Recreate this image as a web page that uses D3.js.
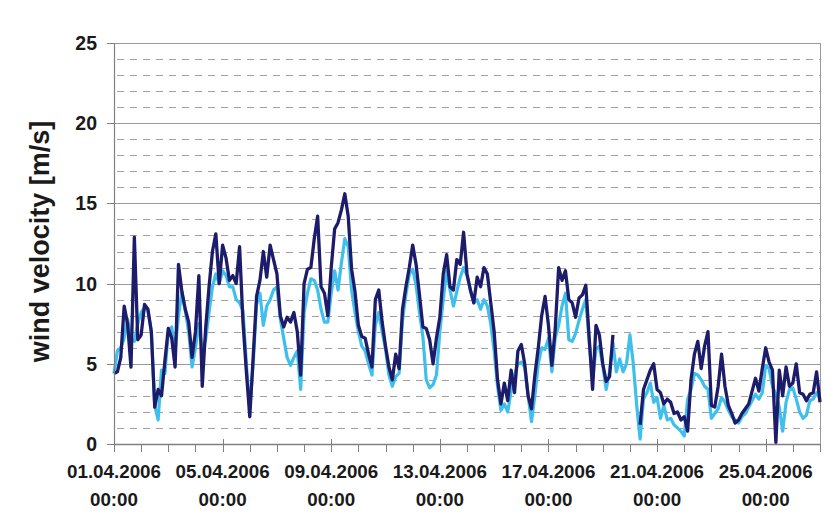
<!DOCTYPE html>
<html>
<head>
<meta charset="utf-8">
<script src="https://cdn.jsdelivr.net/npm/d3@7"></script>
<style>
  html, body { margin: 0; padding: 0; background: #fff; }
  svg { display: block; }
  text { font-family: "Liberation Sans", Arial, sans-serif; font-weight: bold; fill: #1a1a1a; }
</style>
</head>
<body>
<svg id="chart" width="840" height="519"></svg>
<script>
// ---- data (3-hourly samples, 01.04.2006 00:00 .. 27.04.2006 00:00) ----
const startTime = Date.UTC(2006, 3, 1, 0, 0);
const stepHours = 3;

const darkSeries = [
  4.4,4.5,5.4,8.6,7.5,4.8,12.9,6.5,
  6.8,8.7,8.4,7.0,2.3,3.4,3.0,5.2,
  7.2,6.6,4.8,11.2,9.5,8.4,7.6,5.4,
  7.0,10.5,3.6,7.2,9.8,12.0,13.1,10.0,
  12.4,11.6,10.2,10.5,10.0,12.3,7.6,4.5,
  1.7,5.4,9.2,10.2,12.0,10.4,12.4,11.5,
  10.6,8.0,7.3,7.9,7.6,8.2,7.0,4.3,
  10.0,10.9,11.0,12.8,14.2,9.8,9.4,8.0,
  11.0,13.4,13.8,14.6,15.6,14.2,10.9,9.5,
  7.4,6.7,6.6,5.6,4.8,9.0,9.6,7.6,
  6.1,4.8,4.0,5.6,4.7,8.4,9.8,11.0,
  12.4,11.2,9.3,7.3,7.2,6.5,5.0,6.6,
  7.9,10.6,11.8,9.8,9.6,11.5,11.2,13.2,
  10.6,9.6,8.8,10.4,9.8,11.0,10.6,8.8,
  7.0,4.0,2.5,3.8,2.7,4.6,3.2,5.8,
  6.2,5.0,3.0,2.2,4.3,6.0,8.0,9.2,
  7.4,4.9,7.2,11.0,10.2,10.8,9.0,8.8,
  7.9,9.1,9.3,9.9,6.6,3.4,7.4,6.8,
  5.0,3.9,4.2,6.8,null,null,null,null,
  null,null,null,1.2,3.4,4.0,4.6,5.0,
  3.4,3.2,2.5,2.8,2.6,1.9,2.0,1.5,
  1.7,0.8,4.0,5.6,6.4,4.7,6.1,7.0,
  2.4,2.3,3.6,5.6,3.6,2.4,1.9,1.3,
  1.5,1.9,2.2,2.5,3.3,4.1,3.3,4.7,
  6.0,5.1,4.6,0.1,4.6,3.0,4.8,3.6,
  3.8,5.0,3.2,3.1,2.7,3.1,3.2,4.5,
  2.6
];

const lightSeries = [
  4.4,5.8,6.0,6.6,7.8,6.5,6.4,7.5,
  8.2,8.5,8.3,7.0,2.4,1.5,4.6,4.4,
  7.0,7.3,5.8,8.0,9.5,8.3,7.0,4.8,
  6.0,7.5,5.8,6.5,8.2,9.8,10.6,10.0,
  10.8,10.5,9.8,9.8,9.0,8.8,8.3,5.0,
  2.2,5.0,8.7,9.4,7.4,8.6,9.0,9.6,
  9.8,7.8,6.6,5.4,4.9,5.4,5.8,3.4,
  8.2,9.4,10.3,10.2,9.6,8.4,7.6,7.6,
  9.4,10.8,9.6,11.3,12.8,12.3,9.6,8.2,
  7.0,6.1,5.8,5.0,4.3,7.4,8.2,7.0,
  5.9,4.3,3.6,4.2,4.4,7.7,9.3,10.6,
  10.9,9.9,8.2,6.7,4.0,3.5,3.7,4.3,
  7.0,9.0,10.8,9.6,8.6,9.5,10.4,11.0,
  10.5,9.6,8.8,9.0,8.4,9.0,8.6,7.5,
  5.8,3.6,2.1,2.5,2.0,3.3,4.3,5.0,
  5.1,4.8,3.0,1.4,3.0,5.0,6.0,5.9,
  6.6,4.5,6.6,7.4,8.6,9.4,6.5,6.4,
  6.9,7.7,8.4,9.0,6.4,4.0,5.9,6.1,
  4.9,3.4,4.5,6.3,4.5,5.3,4.5,5.0,
  6.8,5.0,2.4,0.3,2.8,3.2,3.8,2.6,
  2.9,1.6,2.4,1.5,1.6,1.2,1.0,0.8,
  0.5,2.8,3.4,4.4,4.3,4.0,3.6,3.4,
  1.6,1.9,2.2,2.9,2.6,2.1,1.7,1.5,
  1.3,1.7,1.9,2.3,2.7,3.1,2.8,3.2,
  4.9,4.7,3.6,3.1,2.3,0.8,2.6,3.4,
  3.5,2.8,2.0,1.6,1.8,2.7,2.8,3.2,
  2.8
];

const xTickDates = ["2006-04-01","2006-04-05","2006-04-09","2006-04-13","2006-04-17","2006-04-21","2006-04-25"];
const xTickLabels = ["01.04.2006","05.04.2006","09.04.2006","13.04.2006","17.04.2006","21.04.2006","25.04.2006"];
const xTickTime = "00:00";
const yMajorTicks = [0, 5, 10, 15, 20, 25];
const yTitle = "wind velocity [m/s]";

// ---- layout ----
const pLeft = 114, pRight = 820, pTop = 43, pBottom = 444;
const svg = d3.select("#chart");

const x = d3.scaleUtc()
  .domain([new Date(Date.UTC(2006, 3, 1)), new Date(Date.UTC(2006, 3, 27))])
  .range([pLeft, pRight]);
const y = d3.scaleLinear().domain([0, 25]).range([pBottom, pTop]);

const timeOf = i => new Date(startTime + i * stepHours * 3600e3);
const toPoints = arr => arr.map((v, i) => ({ t: timeOf(i), v }));

// grid
const g = svg.append("g");
d3.range(1, 25).filter(v => v % 5 !== 0).forEach(v => {
  g.append("line").attr("x1", pLeft + 3).attr("x2", pRight)
    .attr("y1", Math.round(y(v)) + 0.5).attr("y2", Math.round(y(v)) + 0.5)
    .attr("stroke", "#a0a0a0").attr("stroke-width", 1)
    .attr("stroke-dasharray", "7,6");
});
yMajorTicks.filter(v => v > 0).forEach(v => {
  g.append("line").attr("x1", pLeft).attr("x2", pRight)
    .attr("y1", Math.round(y(v)) + 0.5).attr("y2", Math.round(y(v)) + 0.5)
    .attr("stroke", "#999999").attr("stroke-width", 1);
});
// right border
g.append("line").attr("x1", pRight + 0.5).attr("x2", pRight + 0.5)
  .attr("y1", pTop).attr("y2", pBottom).attr("stroke", "#9a9a9a");

// lines
const line = d3.line()
  .defined(d => d.v !== null)
  .x(d => x(d.t)).y(d => y(d.v))
  .curve(d3.curveLinear);

svg.append("path").datum(toPoints(lightSeries))
  .attr("d", line).attr("fill", "none")
  .attr("stroke", "#3fbfeb").attr("stroke-width", 3.2)
  .attr("stroke-linejoin", "round");
svg.append("path").datum(toPoints(darkSeries))
  .attr("d", line).attr("fill", "none")
  .attr("stroke", "#1d1c6b").attr("stroke-width", 3.3)
  .attr("stroke-linejoin", "round");

// axes lines
svg.append("line").attr("x1", pLeft + 0.5).attr("x2", pLeft + 0.5)
  .attr("y1", pTop).attr("y2", pBottom).attr("stroke", "#808080").attr("stroke-width", 1.2);
svg.append("line").attr("x1", pLeft).attr("x2", pRight + 1)
  .attr("y1", pBottom + 0.5).attr("y2", pBottom + 0.5).attr("stroke", "#808080").attr("stroke-width", 1.4);

// y ticks + labels
yMajorTicks.forEach(v => {
  svg.append("line").attr("x1", pLeft - 7).attr("x2", pLeft)
    .attr("y1", Math.round(y(v)) + 0.5).attr("y2", Math.round(y(v)) + 0.5)
    .attr("stroke", "#808080");
  svg.append("text").attr("x", 97).attr("y", y(v) + 7)
    .attr("text-anchor", "end").attr("font-size", 19.5).text(v);
});

// x ticks: daily minor, labelled every 4 days
const days = d3.utcDay.range(new Date(Date.UTC(2006, 3, 1)), new Date(Date.UTC(2006, 3, 27, 1)));
days.forEach(d => {
  const xx = Math.round(x(d)) + 0.5;
  svg.append("line").attr("x1", xx).attr("x2", xx)
    .attr("y1", pBottom).attr("y2", pBottom + 8).attr("stroke", "#808080");
});
xTickDates.forEach((ds, i) => {
  const d = new Date(ds + "T00:00:00Z");
  const xx = Math.round(x(d)) + 0.5;
  svg.append("line").attr("x1", xx).attr("x2", xx)
    .attr("y1", pBottom - 5).attr("y2", pBottom + 8).attr("stroke", "#808080");
  svg.append("text").attr("x", x(d)).attr("y", 478)
    .attr("text-anchor", "middle").attr("font-size", 18.8).text(xTickLabels[i]);
  svg.append("text").attr("x", x(d)).attr("y", 506)
    .attr("text-anchor", "middle").attr("font-size", 18.8).text(xTickTime);
});

// y title
svg.append("text")
  .attr("transform", `translate(49, ${(118 + 365) / 2}) rotate(-90)`)
  .attr("text-anchor", "middle").attr("font-size", 27).text(yTitle);
</script>
</body>
</html>
